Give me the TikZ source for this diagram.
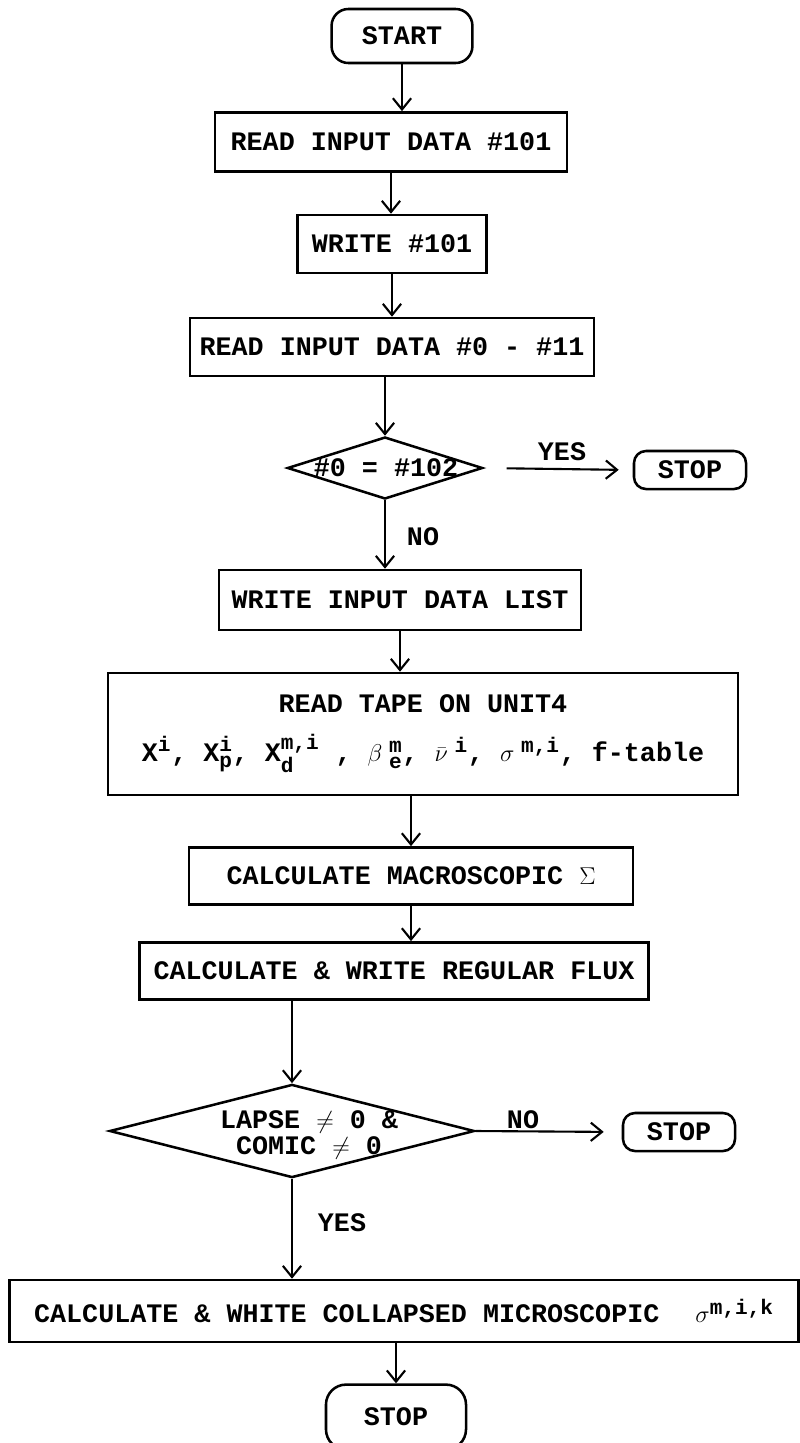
\documentclass[tikz,border=0pt]{standalone}
\usepackage{amsmath,amssymb}
\usepackage{fontspec}
\setmainfont{Liberation Mono}
\DeclareMathSizes{19}{19}{15}{12}
\usepackage{tikz}
\usetikzlibrary{arrows.meta, positioning, shapes.geometric}

\tikzset{
  every node/.style={font=\bfseries\fontsize{19}{22}\selectfont},
  box/.style={draw, line width=1.8pt, rectangle, inner sep=0pt, align=center},
  term/.style={draw, line width=1.8pt, rectangle, rounded corners=0.42cm, inner sep=0pt},
  decide/.style={draw, line width=1.8pt, diamond, inner sep=0pt},
  flow/.style={-{Straight Barb[length=8pt,width=13pt]}, line width=1.5pt},
  lbl/.style={inner sep=0pt}
}

\begin{document}
\begin{tikzpicture}[x=0.025cm, y=-0.025cm]
  \useasboundingbox (0,0) rectangle (800,1443);
  \clip (0,0) rectangle (800,1443);
  % main column
  \node[term, minimum width=3.52cm, minimum height=1.35cm] (start) at (402,36) {START};
  \node[box, minimum width=8.8cm, minimum height=1.48cm] (r101) at (391,142) {READ INPUT DATA \#101};
  \node[box, minimum width=4.72cm, minimum height=1.45cm] (w101) at (392,244) {WRITE \#101};
  \node[box, minimum width=10.1cm, minimum height=1.45cm] (r0) at (392,347) {READ INPUT DATA \#0 - \#11};
  \node[decide, minimum width=4.88cm, minimum height=1.55cm] (dec1) at (385,468) {};
  \node (dec1txt) at (386,468) {\#0 = \#102};
  \node[term, minimum width=2.8cm, minimum height=0.95cm, rounded corners=0.3cm] (stop1) at (690,470) {STOP};
  \node[box, minimum width=9.05cm, minimum height=1.5cm] (wlist) at (400,600) {WRITE INPUT DATA LIST};
  \node[box, minimum width=15.75cm, minimum height=3.05cm] (tape) at (423,734)
    {READ TAPE ON UNIT4\\[0.45cm]
     $\text{X}^{\text{i}}$, $\text{X}^{\text{i}}_{\text{p}}$, $\text{X}^{\text{m,i}}_{\text{d}}$ , $\beta\;^{\text{m}}_{\text{e}}$, $\bar{\nu}\;^{\text{i}}$, $\sigma\;^{\text{m,i}}$, f-table};
  \node[box, minimum width=11.1cm, minimum height=1.43cm] (macro) at (411,876) {CALCULATE MACROSCOPIC $\Sigma$};
  \node[box, minimum width=12.72cm, minimum height=1.43cm] (flux) at (394,971) {CALCULATE \& WRITE REGULAR FLUX};
  \node[decide, minimum width=9.12cm, minimum height=2.33cm] (dec2) at (292,1131) {};
  \node[align=center, font=\bfseries\fontsize{19}{19}\selectfont] (dec2txt) at (309,1135) {LAPSE $\neq$ 0 \&\\COMIC $\neq$ 0};
  \node[term, minimum width=2.8cm, minimum height=0.95cm, rounded corners=0.3cm] (stop2) at (679,1132) {STOP};
  \node[box, minimum width=19.72cm, minimum height=1.55cm] (last) at (404,1311)
    {CALCULATE \& WHITE COLLAPSED MICROSCOPIC\hspace{0.9cm}$\sigma^{\text{m,i,k}}$};
  \node[term, minimum width=3.5cm, minimum height=1.62cm, rounded corners=0.5cm] (stop3) at (396,1417) {STOP};

  % labels
  \node[lbl] (yes1) at (562,452) {YES};
  \node[lbl] (no1) at (423,537) {NO};
  \node[lbl] (no2) at (523,1120) {NO};
  \node[lbl] (yes2) at (342,1223) {YES};

  % connectors
  \draw[flow] (start.south) -- (start.south |- r101.north);
  \draw[flow] (r101.south) -- (r101.south |- w101.north);
  \draw[flow] (w101.south) -- (w101.south |- r0.north);
  \draw[flow] (dec1.north |- r0.south) -- (dec1.north);
  \draw[flow, shorten <=0.57cm, shorten >=0.35cm] (dec1.east) -- (stop1.west);
  \draw[flow] (dec1.south) -- (dec1.south |- wlist.north);
  \draw[flow] (wlist.south) -- (wlist.south |- tape.north);
  \draw[flow] (macro.north |- tape.south) -- (macro.north);
  \draw[flow] (macro.south) -- (macro.south |- flux.north);
  \draw[flow] (dec2.north |- flux.south) -- (dec2.north);
  \draw[flow, shorten >=0.45cm] (dec2.east) -- (stop2.west);
  \draw[flow] (dec2.south) -- (dec2.south |- last.north);
  \draw[flow] (stop3.north |- last.south) -- (stop3.north);
\end{tikzpicture}
\end{document}
